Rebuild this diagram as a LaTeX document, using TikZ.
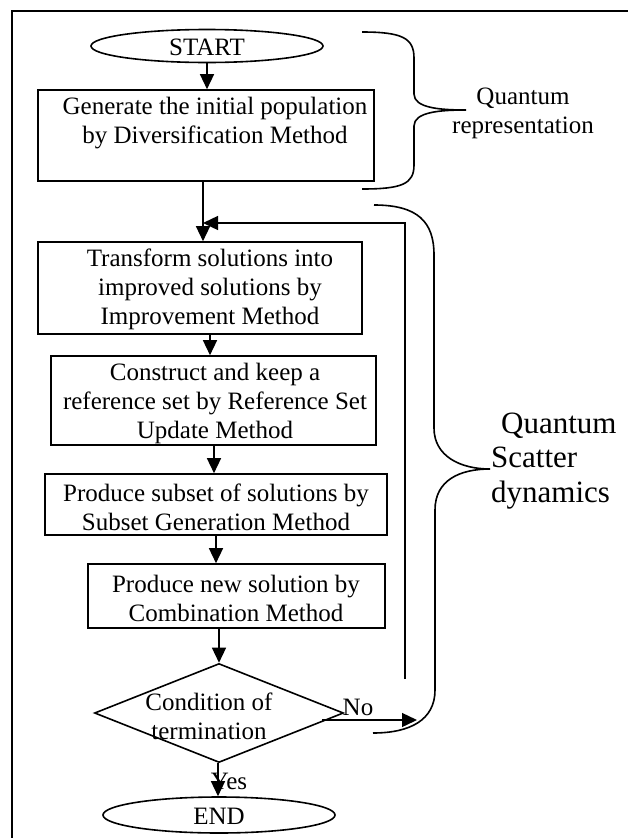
\documentclass[tikz,border=0pt]{standalone}
\usepackage{fontspec}
\setmainfont{Liberation Serif}
\usetikzlibrary{arrows.meta,shapes.geometric,calc}
\tikzset{
  boxshape/.style={draw, line width=1.6pt, rectangle, inner sep=0pt},
  ovalshape/.style={draw, line width=1.6pt, ellipse, inner sep=0pt},
  txt/.style={align=center, inner sep=0pt, font=\fontsize{25}{29}\selectfont},
  arr/.style={line width=1.4pt, -{Triangle[length=15pt,width=14pt]}},
  plain/.style={line width=1.4pt},
  brace/.style={line width=1.6pt}
}
\begin{document}
\begin{tikzpicture}[x=1pt,y=-1pt]
\useasboundingbox (0,0) rectangle (628,838);
% frame
\draw[line width=1.8pt] (12,838) -- (12,11) -- (628,11);

% start / end
\node[ovalshape, minimum width=232pt, minimum height=33pt] (start) at (207,46) {};
\node[txt] (starttxt) at (207,47) {START};
\node[ovalshape, minimum width=232pt, minimum height=36pt] (end) at (219,815) {};
\node[txt] (endtxt) at (219,816) {END};

% boxes
\node[boxshape, minimum width=336pt, minimum height=91pt] (b1) at (206,135.5) {};
\node[txt] (t1) at (215,123) {Generate the initial population\\by Diversification Method};
\node[boxshape, minimum width=324pt, minimum height=92pt] (b2) at (200,288) {};
\node[txt] (t2) at (210,289) {Transform solutions into\\improved solutions by\\Improvement Method};
\node[boxshape, minimum width=325pt, minimum height=89pt] (b3) at (213.5,400.5) {};
\node[txt] (t3) at (215,403) {Construct and keep a\\reference set by Reference Set\\Update Method};
\node[boxshape, minimum width=342pt, minimum height=61pt] (b4) at (216,504.5) {};
\node[txt] (t4) at (216,507) {Produce subset of solutions by\\Subset Generation Method};
\node[boxshape, minimum width=297pt, minimum height=64pt] (b5) at (236.5,596) {};
\node[txt] (t5) at (236,598) {Produce new solution by\\Combination Method};

% decision
\node[draw, diamond, line width=1.6pt, minimum width=249pt, minimum height=99pt, inner sep=0pt, shape aspect=2.5] (dia) at (219,713) {};
\node[txt] (tdia) at (209,716) {Condition of\\termination};

% connectors
\coordinate (join) at (203,223);
\coordinate (fbend) at (405,679);
\coordinate (nostart) at (322,720);
\coordinate (noend) at (417,720);
\draw[arr] (start.south) -- (b1.north -| start.south);
\draw[arr] (b1.south -| join) -- (b2.north -| join);
\draw[arr] (fbend) |- (join);
\draw[arr] ([xshift=10pt]b2.south) -- ([xshift=-3.5pt]b3.north);
\draw[arr] ([xshift=0.5pt]b3.south) -- ([xshift=-2pt]b4.north);
\draw[arr] ([xshift=0pt]b4.south) -- ([xshift=-20.5pt]b5.north);
\draw[arr] ([xshift=-17.5pt]b5.south) -- (dia.north);
\draw[arr] ([xshift=-1pt]dia.south) -- ([xshift=-1pt]end.north);
\draw[arr] (nostart) -- (noend);
\node[txt] (nolbl) at (358,707) {No};
\node[txt] (yeslbl) at (229,781) {Yes};

% braces
\draw[brace] (362,32) .. controls (402,32) and (414,38) .. (414,58)
  -- (414,94) .. controls (414,108) and (440,110) .. (466,110)
  .. controls (440,110) and (414,112) .. (414,126)
  -- (414,165) .. controls (414,184) and (402,189) .. (362,189);
\node[txt] (qrep) at (523,113) {Quantum\\representation};

\draw[brace] (374,205) .. controls (418,205) and (434,222) .. (434,255)
  -- (434,428) .. controls (434,456) and (460,469) .. (490,469)
  .. controls (460,469) and (435,480) .. (435,510)
  -- (435,690) .. controls (435,720) and (410,733) .. (373,733);
\node[align=left, inner sep=0pt, anchor=west, font=\fontsize{31}{34.5}\selectfont] (qsd) at (491,461) {\hspace*{10pt}Quantum\\Scatter\\dynamics};
\end{tikzpicture}
\end{document}
